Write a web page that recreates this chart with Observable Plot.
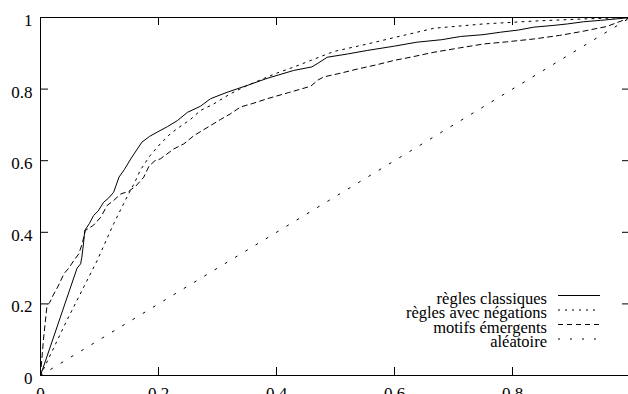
<!DOCTYPE html>
<html><head><meta charset="utf-8">
<script src="https://cdn.jsdelivr.net/npm/d3@7"></script>
<script src="https://cdn.jsdelivr.net/npm/@observablehq/plot@0.6"></script>
<style>html,body{margin:0;padding:0;background:#fff;overflow:hidden}</style>
</head><body><div id="chart"></div>
<script>
// Series names (legend order)
const seriesNames = ["règles classiques", "règles avec négations", "motifs émergents", "aléatoire"];

// règles classiques (solid)
const classiquesX = [0, 0.062, 0.068, 0.070, 0.073, 0.075, 0.083, 0.090, 0.098, 0.107, 0.115, 0.124, 0.133, 0.142, 0.153, 0.163, 0.172, 0.185, 0.198, 0.215, 0.232, 0.249, 0.271, 0.288, 0.316, 0.350, 0.384, 0.429, 0.460, 0.470, 0.486, 0.520, 0.554, 0.600, 0.638, 0.680, 0.712, 0.750, 0.780, 0.810, 0.836, 0.870, 0.893, 0.920, 0.949, 0.975, 1];
const classiquesY = [0, 0.300, 0.312, 0.330, 0.370, 0.405, 0.425, 0.447, 0.460, 0.484, 0.495, 0.512, 0.554, 0.575, 0.605, 0.630, 0.652, 0.668, 0.680, 0.695, 0.712, 0.735, 0.752, 0.773, 0.791, 0.810, 0.830, 0.852, 0.862, 0.872, 0.889, 0.898, 0.908, 0.920, 0.931, 0.938, 0.947, 0.952, 0.959, 0.965, 0.973, 0.978, 0.982, 0.988, 0.992, 0.996, 1];

// règles avec négations (dotted)
const negationsX = [0, 0.045, 0.096, 0.124, 0.147, 0.160, 0.169, 0.186, 0.203, 0.220, 0.232, 0.254, 0.271, 0.294, 0.322, 0.350, 0.401, 0.430, 0.458, 0.497, 0.554, 0.610, 0.667, 0.751, 0.836, 0.921, 1];
const negationsY = [0, 0.155, 0.321, 0.424, 0.500, 0.540, 0.573, 0.615, 0.647, 0.675, 0.690, 0.715, 0.740, 0.759, 0.787, 0.810, 0.845, 0.862, 0.880, 0.905, 0.926, 0.948, 0.970, 0.982, 0.990, 0.996, 1];

// motifs émergents (dashed)
const motifsX = [0, 0.005, 0.011, 0.016, 0.020, 0.030, 0.040, 0.048, 0.056, 0.065, 0.071, 0.076, 0.090, 0.102, 0.113, 0.124, 0.136, 0.150, 0.162, 0.175, 0.184, 0.194, 0.203, 0.226, 0.243, 0.260, 0.275, 0.288, 0.305, 0.322, 0.339, 0.360, 0.384, 0.420, 0.458, 0.470, 0.480, 0.510, 0.537, 0.570, 0.599, 0.630, 0.667, 0.710, 0.751, 0.790, 0.836, 0.880, 0.921, 0.960, 1];
const motifsY = [0, 0.100, 0.195, 0.205, 0.220, 0.250, 0.285, 0.300, 0.320, 0.340, 0.370, 0.405, 0.420, 0.442, 0.475, 0.489, 0.507, 0.515, 0.530, 0.554, 0.585, 0.600, 0.605, 0.633, 0.647, 0.670, 0.685, 0.698, 0.715, 0.731, 0.750, 0.760, 0.773, 0.790, 0.808, 0.825, 0.834, 0.845, 0.856, 0.868, 0.880, 0.890, 0.903, 0.915, 0.926, 0.932, 0.940, 0.950, 0.962, 0.975, 1];

// aléatoire (sparse dots)
const aleatoireX = [0, 1];
const aleatoireY = [0, 1];

// Axis ticks
const xTickMarks = [0.2, 0.4, 0.6, 0.8];
const xTickLabels = [0, 0.2, 0.4, 0.6, 0.8];
const yTickMarks = [0.2, 0.4, 0.6, 0.8];
const yTickLabels = [0, 0.2, 0.4, 0.6, 0.8, 1];

const seriesXs = [classiquesX, negationsX, motifsX, aleatoireX];
const seriesYs = [classiquesY, negationsY, motifsY, aleatoireY];
const dashes = [null, "2,5", "5,4", "2,10"];

const table = [];
seriesNames.forEach((name, i) => {
  seriesXs[i].forEach((x, j) => table.push({series: name, x, y: seriesYs[i][j]}));
});

const font = "Liberation Serif";
const fmt = d => String(d);

const chart = Plot.plot({
  width: 628, height: 394,
  marginLeft: 40, marginRight: -2, marginTop: 17, marginBottom: 19,
  x: {domain: [0, 1], range: [40, 630]},
  y: {domain: [0, 1], range: [375, 17]},
  style: {fontFamily: font, fontSize: "17px", background: "#fff"},
  marks: [
    Plot.frame({stroke: "#000", strokeWidth: 1}),
    Plot.tickX(xTickMarks, {x: d => d, insetTop: 350, stroke: "#000"}),
    Plot.tickX(xTickMarks, {x: d => d, insetBottom: 350, stroke: "#000"}),
    Plot.tickY(yTickMarks, {y: d => d, insetRight: 582, stroke: "#000"}),
    Plot.tickY(yTickMarks, {y: d => d, insetLeft: 582, stroke: "#000"}),
    Plot.axisX(xTickLabels, {tickSize: 0, tickPadding: 11, label: null, tickFormat: fmt}),
    Plot.axisY(yTickLabels, {tickSize: 0, tickPadding: 8, label: null, tickFormat: fmt, dy: 3}),
    ...seriesNames.map((name, i) => Plot.line(table.filter(d => d.series === name), {
      x: "x", y: "y", stroke: "#000", strokeWidth: 1,
      strokeDasharray: dashes[i] || undefined
    }))
  ]
});
document.getElementById("chart").appendChild(chart);

// Legend (gnuplot-style key, inside the plot area)
const svg = d3.select(chart);
const key = svg.append("g").attr("font-family", font).attr("font-size", 16.5).attr("fill", "#000");
seriesNames.forEach((name, i) => {
  const baseline = 303.5 + i * 14.5;
  key.append("text").attr("x", 547).attr("y", baseline).attr("text-anchor", "end").text(name);
  const ln = key.append("line").attr("x1", 558).attr("x2", 600)
    .attr("y1", baseline - 8).attr("y2", baseline - 8)
    .attr("stroke", "#000").attr("stroke-width", 1);
  if (dashes[i]) ln.attr("stroke-dasharray", dashes[i]);
});
</script>
</body></html>
